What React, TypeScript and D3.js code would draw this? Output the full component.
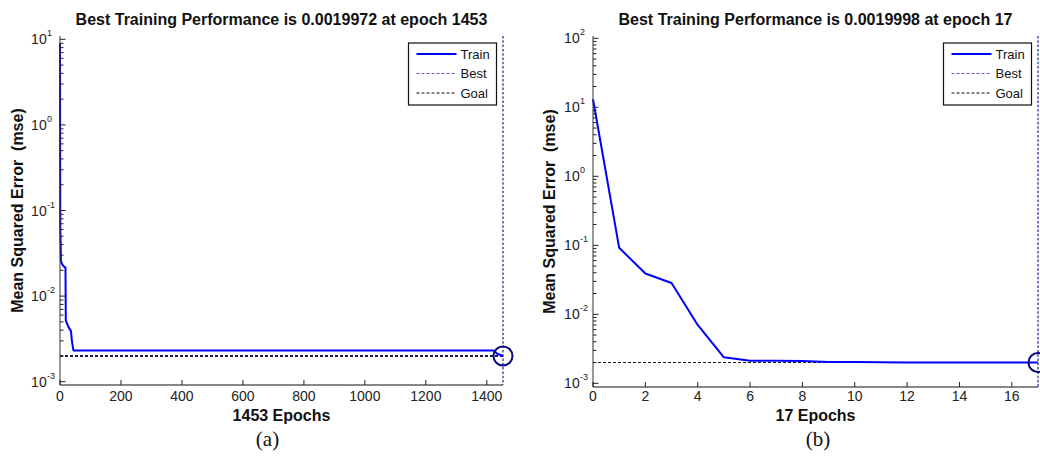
import React from "react";
import * as d3 from "d3";

// ---- Panel (a): training run that stops at epoch 1453 ----
const epochsA = [0, 1, 2, 3, 6, 11, 18, 19, 27, 36, 39, 44, 1422, 1434, 1453];
const trainA = [9.0, 0.059, 0.045, 0.026, 0.024, 0.0225, 0.0215, 0.0052, 0.0044, 0.0039, 0.003, 0.00232, 0.00232, 0.00212, 0.0019972];
const xTicksA = [0, 200, 400, 600, 800, 1000, 1200, 1400];
const decadesA = [-3, -2, -1, 0, 1];
const bestEpochA = 1453;
const bestPerfA = 0.0019972;
const goalA = 0.002;
const titleA = "Best Training Performance is 0.0019972 at epoch 1453";
const xLabelA = "1453 Epochs";
const captionA = "(a)";

// ---- Panel (b): training run that stops at epoch 17 ----
const epochsB = [0, 1, 2, 3, 4, 5, 6, 7, 8, 9, 10, 11, 12, 13, 14, 15, 16, 17];
const trainB = [13.1, 0.092, 0.039, 0.0284, 0.007, 0.00238, 0.00213, 0.00212, 0.0021, 0.00204, 0.00203, 0.00202, 0.00201, 0.00201, 0.002, 0.002, 0.002, 0.0019998];
const xTicksB = [0, 2, 4, 6, 8, 10, 12, 14, 16];
const decadesB = [-3, -2, -1, 0, 1, 2];
const bestEpochB = 17;
const bestPerfB = 0.0019998;
const goalB = 0.002;
const titleB = "Best Training Performance is 0.0019998 at epoch 17";
const xLabelB = "17 Epochs";
const captionB = "(b)";

const yLabel = "Mean Squared Error  (mse)";
const legendItems = ["Train", "Best", "Goal"];

const SANS = "'Liberation Sans', Arial, Helvetica, sans-serif";
const SERIF = "'Liberation Serif', 'Times New Roman', Times, serif";
const TRAIN_COLOR = "#0000ff";
const BEST_COLOR = "#1c1ca0";
const CIRCLE_COLOR = "#0a0a80";

type PanelProps = {
  epochs: number[];
  train: number[];
  xTicks: number[];
  decades: number[];
  xMax: number;
  bestEpoch: number;
  bestPerf: number;
  goal: number;
  title: string;
  xLabel: string;
  caption: string;
  // layout
  x0: number;
  x1: number;
  yBottomDecadePx: number;
  yTopDecadePx: number;
  axisTop: number;
  axisBottom: number;
  yLabelX: number;
  captionX: number;
  goalWidth: number;
  goalColor: string;
};

function Panel(p: PanelProps) {
  const x = d3.scaleLinear().domain([0, p.xMax]).range([p.x0, p.x1]);
  const lo = d3.min(p.decades) as number;
  const hi = d3.max(p.decades) as number;
  const y = d3
    .scaleLog()
    .domain([Math.pow(10, lo), Math.pow(10, hi)])
    .range([p.yBottomDecadePx, p.yTopDecadePx]);

  const line = d3
    .line<number>()
    .x((_, i) => x(p.epochs[i]))
    .y((v) => y(v));

  const minor: number[] = [];
  for (let d = lo; d < hi; d++) {
    for (let k = 2; k <= 9; k++) minor.push(k * Math.pow(10, d));
  }

  const cx = (p.x0 + p.x1) / 2;
  const cy = (p.axisTop + p.axisBottom) / 2;

  // legend box anchored to the top-right corner of the axes
  const lgW = 88;
  const lgH = 62;
  const lgX = p.x1 - 6.5 - lgW;
  const lgY = p.axisTop + 7;
  const rows = [11, 30.5, 50];

  return (
    <g>
      {/* title */}
      <text x={cx} y={25} textAnchor="middle" fontFamily={SANS} fontSize={16} fontWeight="bold" fill="#111">
        {p.title}
      </text>

      {/* goal line and best markers */}
      <line x1={x(0)} x2={x(p.xMax)} y1={y(p.goal)} y2={y(p.goal)} stroke={p.goalColor} strokeWidth={p.goalWidth} strokeDasharray="3,2" />
      <line x1={x(p.bestEpoch)} x2={x(p.bestEpoch)} y1={p.axisTop} y2={p.axisBottom} stroke={BEST_COLOR} strokeWidth={1.2} strokeDasharray="2.5,1.8" />

      {/* training curve */}
      <path d={line(p.train) as string} fill="none" stroke={TRAIN_COLOR} strokeWidth={2} strokeLinejoin="round" />

      <circle cx={x(p.bestEpoch)} cy={y(p.bestPerf)} r={9.5} fill="none" stroke={CIRCLE_COLOR} strokeWidth={2} />

      {/* axes */}
      <line x1={p.x0} x2={p.x0} y1={p.axisTop} y2={p.axisBottom} stroke="#333" strokeWidth={1} />
      <line x1={p.x0} x2={p.x1} y1={p.axisBottom} y2={p.axisBottom} stroke="#111" strokeWidth={1.2} />

      {/* y ticks */}
      {minor.map((v, i) => (
        <line key={"m" + i} x1={p.x0} x2={p.x0 + 3.5} y1={y(v)} y2={y(v)} stroke="#222" strokeWidth={1} />
      ))}
      {p.decades.map((d) => {
        const ty = y(Math.pow(10, d));
        return (
          <g key={"d" + d}>
            <line x1={p.x0} x2={p.x0 + 5.5} y1={ty} y2={ty} stroke="#222" strokeWidth={1} />
            <text x={p.x0 - 13.3} y={ty + 5} textAnchor="end" fontFamily={SANS} fontSize={14} fill="#222">
              10
            </text>
            <text x={p.x0 - 13} y={ty - 3} textAnchor="start" fontFamily={SANS} fontSize={9} fill="#222">
              {String(d)}
            </text>
          </g>
        );
      })}

      {/* x ticks */}
      {p.xTicks.map((t) => (
        <g key={"x" + t}>
          <line x1={x(t)} x2={x(t)} y1={p.axisBottom} y2={p.axisBottom - 5} stroke="#222" strokeWidth={1} />
          <text x={x(t)} y={401} textAnchor="middle" fontFamily={SANS} fontSize={14} fill="#222">
            {String(t)}
          </text>
        </g>
      ))}

      {/* axis labels */}
      <text x={cx} y={421} textAnchor="middle" fontFamily={SANS} fontSize={16} fontWeight="bold" fill="#111">
        {p.xLabel}
      </text>
      <text
        transform={`translate(${p.yLabelX},${cy}) rotate(-90)`}
        textAnchor="middle"
        fontFamily={SANS}
        fontSize={16}
        fontWeight="bold"
        fill="#111"
        style={{ whiteSpace: "pre" }}
      >
        {yLabel}
      </text>
      <text x={p.captionX} y={446} textAnchor="middle" fontFamily={SERIF} fontSize={21} fill="#111">
        {p.caption}
      </text>

      {/* legend */}
      <rect x={lgX} y={lgY} width={lgW} height={lgH} fill="#fff" stroke="#111" strokeWidth={1.2} />
      {legendItems.map((name, i) => {
        const ly = lgY + rows[i];
        const stroke = i === 0 ? TRAIN_COLOR : i === 1 ? "#5a5ad0" : "#111";
        return (
          <g key={name}>
            <line
              x1={lgX + 8}
              x2={lgX + 48}
              y1={ly}
              y2={ly}
              stroke={stroke}
              strokeWidth={i === 0 ? 2 : 1}
              strokeDasharray={i === 0 ? undefined : "3,2"}
            />
            <text x={lgX + 52} y={ly + 4.5} fontFamily={SANS} fontSize={13} fill="#111">
              {name}
            </text>
          </g>
        );
      })}
    </g>
  );
}

export default function App() {
  return (
    <svg
      width={1040}
      height={456}
      viewBox="0 0 1040 456"
      style={{ position: "absolute", left: 0, top: 0, background: "#fff" }}
    >
      <rect x={0} y={0} width={1040} height={456} fill="#fff" />
      <Panel
        epochs={epochsA}
        train={trainA}
        xTicks={xTicksA}
        decades={decadesA}
        xMax={bestEpochA}
        bestEpoch={bestEpochA}
        bestPerf={bestPerfA}
        goal={goalA}
        title={titleA}
        xLabel={xLabelA}
        caption={captionA}
        x0={60}
        x1={503}
        yBottomDecadePx={381.7}
        yTopDecadePx={39.3}
        axisTop={36}
        axisBottom={385}
        yLabelX={22.5}
        captionX={267.5}
        goalWidth={2}
        goalColor="#1a1a55"
      />
      <Panel
        epochs={epochsB}
        train={trainB}
        xTicks={xTicksB}
        decades={decadesB}
        xMax={bestEpochB}
        bestEpoch={bestEpochB}
        bestPerf={bestPerfB}
        goal={goalB}
        title={titleB}
        xLabel={xLabelB}
        caption={captionB}
        x0={593}
        x1={1038}
        yBottomDecadePx={383.3}
        yTopDecadePx={38.3}
        axisTop={36}
        axisBottom={387}
        yLabelX={555}
        captionX={818}
        goalWidth={1}
        goalColor="#111"
      />
    </svg>
  );
}
